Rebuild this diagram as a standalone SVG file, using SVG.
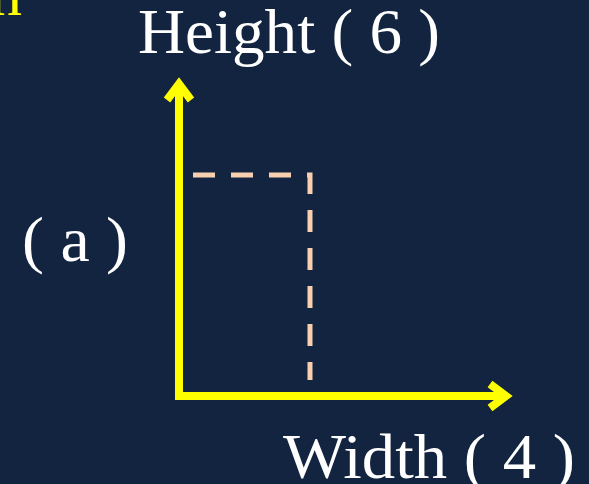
<svg xmlns="http://www.w3.org/2000/svg" width="589" height="484" viewBox="0 0 589 484">
<style>
.t{font-family:"Liberation Serif","Times New Roman",serif;font-size:64px;fill:#ffffff}
.axis{stroke:#ffff00;stroke-width:8;fill:none}
.dash{stroke:#f8d0b0;stroke-width:5;fill:none;stroke-dasharray:22 16}
</style>
<rect width="589" height="484" fill="#12243f"/>
<text class="t" x="-10" y="15" style="fill:#ffff00">n</text>
<g id="height-label"><text class="t" x="138" y="53" textLength="302" lengthAdjust="spacingAndGlyphs">Height ( 6 )</text></g>
<g id="a-label"><text class="t" x="22" y="261" textLength="106" lengthAdjust="spacingAndGlyphs">( a )</text></g>
<g id="width-label"><text class="t" x="283" y="478" textLength="292" lengthAdjust="spacingAndGlyphs">Width ( 4 )</text></g>
<g id="connectors">
<path class="dash" d="M193,175 H310 V380"/>
<path class="axis" d="M179,84 V396 H506" stroke-linejoin="miter"/>
<polyline class="axis" points="167,100 179,84 191,100" stroke-linejoin="miter"/>
<polyline class="axis" points="490,384 506,396 490,408" stroke-linejoin="miter"/>
</g>
</svg>
